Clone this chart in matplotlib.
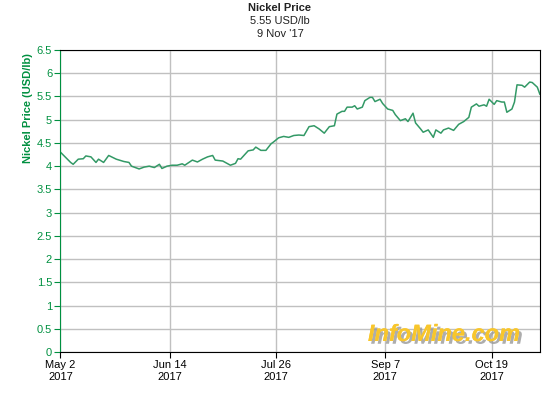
import datetime as dt
import matplotlib
matplotlib.use('Agg')
from matplotlib import pyplot as plt
import matplotlib.patheffects as pe

plt.rcParams['font.family'] = ['Liberation Sans', 'DejaVu Sans']

# days after May 2 2017 and nickel price (USD/lb)
days = [0, 4, 5, 7, 9, 10, 12, 14, 15, 17, 19, 22, 25, 27, 28, 31, 33, 35, 37, 39,
        40, 42, 44, 46, 48, 49, 52, 54, 56, 58, 60, 61, 64, 65, 67, 69, 70, 71, 74, 76,
        77, 79, 81, 83, 84, 86, 88, 90, 92, 94, 96, 98, 100, 102, 104, 106, 108, 109, 111, 112,
        113, 115, 116, 117, 119, 120, 122, 123, 124, 126, 127, 129, 131, 132, 134, 136, 137, 139, 140, 142,
        143, 145, 147, 148, 150, 151, 153, 155, 157, 159, 161, 162, 164, 165, 167, 168, 169, 171, 172, 174,
        175, 176, 178, 179, 180, 182, 183, 185, 186, 188, 189]
price = [4.30, 4.08, 4.04, 4.15, 4.16, 4.22, 4.20, 4.08, 4.15, 4.08, 4.23, 4.15, 4.10, 4.08, 4.00, 3.94, 3.98, 4.00, 3.97, 4.04,
         3.95, 4.00, 4.02, 4.02, 4.05, 4.02, 4.13, 4.09, 4.15, 4.20, 4.23, 4.13, 4.11, 4.08, 4.02, 4.06, 4.16, 4.15, 4.33, 4.35,
         4.41, 4.34, 4.34, 4.48, 4.52, 4.61, 4.64, 4.62, 4.66, 4.67, 4.66, 4.85, 4.87, 4.80, 4.71, 4.85, 4.87, 5.12, 5.18, 5.18,
         5.27, 5.27, 5.30, 5.23, 5.27, 5.41, 5.48, 5.48, 5.39, 5.44, 5.35, 5.23, 5.20, 5.11, 4.98, 5.02, 4.96, 5.14, 4.93, 4.80,
         4.73, 4.78, 4.62, 4.78, 4.71, 4.78, 4.82, 4.77, 4.90, 4.96, 5.05, 5.27, 5.34, 5.29, 5.32, 5.29, 5.44, 5.33, 5.41, 5.38,
         5.38, 5.16, 5.23, 5.38, 5.75, 5.74, 5.70, 5.81, 5.80, 5.70, 5.55]
yticks = [0, 0.5, 1, 1.5, 2, 2.5, 3, 3.5, 4, 4.5, 5, 5.5, 6, 6.5]
xtick_dates = ['2017-05-02', '2017-06-14', '2017-07-26', '2017-09-07', '2017-10-19']

start = dt.date(2017, 5, 2)
dates = [start + dt.timedelta(days=d) for d in days]
green = '#009040'

fig = plt.figure(figsize=(5.6, 4), dpi=100)
ax = fig.add_axes([0.108, 0.12, 0.856, 0.755])
ax.plot(dates, price, color='#339966', lw=1.1)

ax.set_ylim(0, 6.5)
ax.set_yticks(yticks)
ax.set_yticklabels(['%g' % v for v in yticks])
ax.set_xlim(start, start + dt.timedelta(days=189))
xt = [dt.date.fromisoformat(s) for s in xtick_dates]
ax.set_xticks(xt)
ax.set_xticklabels([d.strftime('%b ') + str(d.day) + '\n2017' for d in xt])

ax.grid(True, color='#c0c0c0', lw=1)
ax.set_axisbelow(True)
for s in ['top', 'right', 'bottom']:
    ax.spines[s].set_color('black')
ax.spines['left'].set_color(green)
ax.tick_params(axis='y', colors=green, labelsize=8, length=4, pad=2)
ax.tick_params(axis='x', colors='black', labelsize=8, length=4, pad=2)

# y label sits at the top of the axis, not centred
fig.text(0.05, 0.868, 'Nickel Price (USD/lb)', rotation=90, ha='center', va='top',
         color=green, fontsize=8, fontweight='bold')

fig.text(0.5, 0.981, 'Nickel Price', ha='center', va='center', fontsize=8, fontweight='bold', color='#222222')
fig.text(0.5, 0.9475, '5.55 USD/lb', ha='center', va='center', fontsize=8, color='#222222')
fig.text(0.5, 0.915, "9 Nov '17", ha='center', va='center', fontsize=8, color='#222222')

ax.text(0.80, 0.058, 'InfoMine.com', transform=ax.transAxes, ha='center', va='center',
        fontsize=17, fontweight='heavy', style='italic', color='#f8c62c',
        path_effects=[pe.withSimplePatchShadow(offset=(2, -2), shadow_rgbFace='#999999', alpha=0.8), pe.Normal()])

fig.savefig('out.png', dpi=100)
